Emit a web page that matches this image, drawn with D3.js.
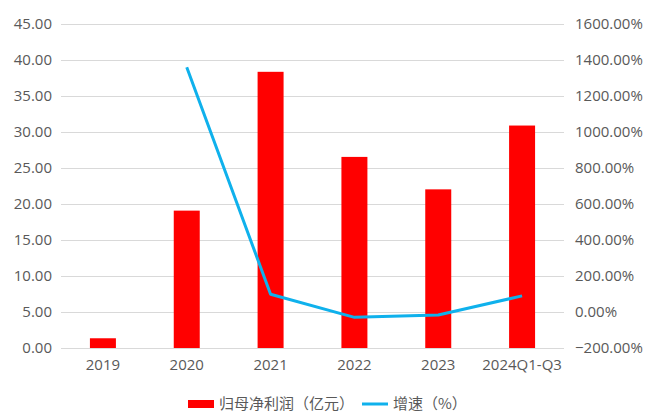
<!DOCTYPE html>
<html><head><meta charset="utf-8">
<script src="https://cdn.jsdelivr.net/npm/d3@7"></script>
<style>body{margin:0;background:#fff;}svg{display:block;}</style>
</head><body>
<svg id="c" width="647" height="414"></svg>
<script>
const categories = ["2019","2020","2021","2022","2023","2024Q1-Q3"];
const profit = [1.35, 19.05, 38.3, 26.5, 22.0, 30.85];
const growth = [null, 1357, 98, -30, -17, 89];
const leftTicks = [0,5,10,15,20,25,30,35,40,45];
const rightTicks = [-200,0,200,400,600,800,1000,1200,1400,1600];
const legendLabels = ["归母净利润（亿元）","增速（%）"];

const FONT = "'Open Sans','Noto Sans CJK SC',sans-serif";
const svg = d3.select("#c").attr("font-family", FONT);
const L = 61, R = 564, T = 23.5, B = 348;
const x = d3.scaleBand().domain(categories).range([L, R]).paddingInner(0.69).paddingOuter(0.345);
const yL = d3.scaleLinear().domain([0,45]).range([B,T]);
const yR = d3.scaleLinear().domain([-200,1600]).range([B,T]);
const textColor = "#595959";

// grid
svg.append("g").selectAll("line").data(leftTicks).join("line")
  .attr("x1", L).attr("x2", R).attr("y1", d=>Math.round(yL(d))+0.5).attr("y2", d=>Math.round(yL(d))+0.5)
  .attr("stroke", "#d9d9d9").attr("stroke-width", 1);

function styleAxis(g){
  g.attr("font-family", FONT).attr("font-size", 15);
  g.select(".domain").remove();
  g.selectAll("text").attr("fill", textColor);
}

// left axis
svg.append("g").attr("transform", `translate(${L},0)`)
  .call(d3.axisLeft(yL).tickValues(leftTicks).tickFormat(d3.format(".2f")).tickSize(0).tickPadding(9))
  .call(styleAxis);

// right axis
svg.append("g").attr("transform", `translate(${R},0)`)
  .call(d3.axisRight(yR).tickValues(rightTicks).tickFormat(d=>d3.format(".2f")(d)+"%").tickSize(0).tickPadding(11))
  .call(styleAxis);

// bars
svg.append("g").selectAll("rect").data(categories).join("rect")
  .attr("x", d=>x(d)).attr("width", x.bandwidth())
  .attr("y", (d,i)=>yL(profit[i])).attr("height", (d,i)=>yL(0)-yL(profit[i]))
  .attr("fill", "#ff0000");

// bottom axis
svg.append("g").attr("transform", `translate(0,${B})`)
  .call(d3.axisBottom(x).tickSize(0).tickPadding(11))
  .call(styleAxis);

// line
const pts = categories.map((c,i)=>({c, v:growth[i]})).filter(d=>d.v!==null);
svg.append("path").datum(pts)
  .attr("d", d3.line().x(d=>x(d.c)+x.bandwidth()/2).y(d=>yR(d.v)))
  .attr("fill","none").attr("stroke","#0fb1ec").attr("stroke-width",3).attr("stroke-linejoin","round");

// legend
const lg = svg.append("g").attr("font-size", 15).attr("font-family","'Noto Sans CJK SC',sans-serif");
lg.append("rect").attr("x",188).attr("y",400).attr("width",26).attr("height",8).attr("fill","#ff0000");
lg.append("text").attr("x",219).attr("y",404).attr("dy","0.35em").attr("fill",textColor).text(legendLabels[0]);
lg.append("line").attr("x1",362).attr("x2",388).attr("y1",404).attr("y2",404).attr("stroke","#0fb1ec").attr("stroke-width",3);
lg.append("text").attr("x",393).attr("y",404).attr("dy","0.35em").attr("fill",textColor).text(legendLabels[1]);
</script>
</body></html>
